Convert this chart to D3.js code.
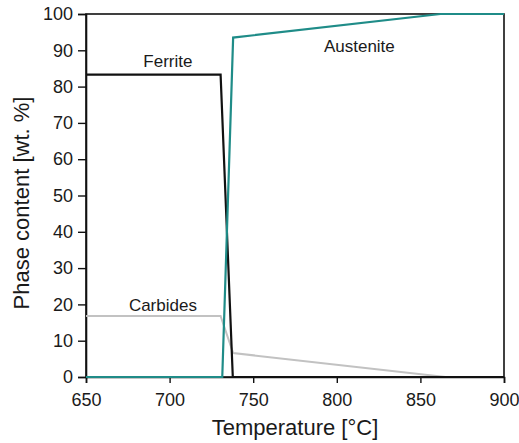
<!DOCTYPE html>
<html>
<head>
<meta charset="utf-8">
<script src="https://cdn.jsdelivr.net/npm/d3@7"></script>
<style>
  html, body { margin: 0; padding: 0; background: #fff; }
  svg { display: block; font-family: "Liberation Sans", Arial, sans-serif; }
</style>
</head>
<body>
<svg id="chart" width="519" height="443"></svg>
<script>
// Phase fractions versus temperature (wt. %)
const ferriteT = [650, 730.5, 737.8, 900];
const ferriteV = [83.3, 83.3, 0, 0];

const carbidesT = [650, 730.5, 738, 865, 900];
const carbidesV = [16.8, 16.8, 6.6, 0, 0];

const austeniteT = [650, 731.5, 738, 862, 900];
const austeniteV = [0, 0, 93.5, 100, 100];

const xTicks = [650, 700, 750, 800, 850, 900];
const yTicks = [0, 10, 20, 30, 40, 50, 60, 70, 80, 90, 100];

const labels = [
  { text: "Ferrite", t: 699, v: 85.5 },
  { text: "Austenite", t: 813.5, v: 89.5 },
  { text: "Carbides", t: 696, v: 18.3 }
];

const W = 519, H = 443;
const margin = { top: 14, right: 15, bottom: 66, left: 86 };
const iw = W - margin.left - margin.right;
const ih = H - margin.top - margin.bottom;

const svg = d3.select("#chart");
const g = svg.append("g").attr("transform", `translate(${margin.left},${margin.top})`);

const x = d3.scaleLinear().domain([650, 900]).range([0, iw]);
const y = d3.scaleLinear().domain([0, 100]).range([ih, 0]);

// frame
g.append("rect")
  .attr("x", 0).attr("y", 0).attr("width", iw).attr("height", ih)
  .attr("fill", "none").attr("stroke", "#111").attr("stroke-width", 1.6);

// axes
const xAxis = g.append("g")
  .attr("transform", `translate(0,${ih})`)
  .call(d3.axisBottom(x).tickValues(xTicks).tickFormat(d3.format("d")).tickSize(6).tickPadding(10));
const yAxis = g.append("g")
  .call(d3.axisLeft(y).tickValues(yTicks).tickFormat(d3.format("d")).tickSize(8).tickPadding(5));

[xAxis, yAxis].forEach(a => {
  a.select(".domain").attr("stroke", "#111").attr("stroke-width", 1.6);
  a.selectAll(".tick line").attr("stroke", "#111").attr("stroke-width", 1.4);
  a.selectAll(".tick text")
    .attr("fill", "#1a1a1a")
    .style("font-family", '"Liberation Sans", Arial, sans-serif')
    .style("font-size", "18px");
});

// phase curves
const series = [
  { t: carbidesT, v: carbidesV, color: "#c2c2c2", w: 2 },
  { t: ferriteT, v: ferriteV, color: "#111111", w: 2.2 },
  { t: austeniteT, v: austeniteV, color: "#1f8c88", w: 2.2 }
];

const line = d3.line().x(d => x(d[0])).y(d => y(d[1]));

series.forEach(s => {
  g.append("path")
    .datum(s.t.map((t, i) => [t, s.v[i]]))
    .attr("d", line)
    .attr("fill", "none")
    .attr("stroke", s.color)
    .attr("stroke-width", s.w)
    .attr("stroke-linejoin", "miter");
});

// curve labels
labels.forEach(l => {
  g.append("text")
    .attr("x", x(l.t))
    .attr("y", y(l.v))
    .attr("text-anchor", "middle")
    .attr("fill", "#1a1a1a")
    .style("font-size", "17px")
    .text(l.text);
});

// axis titles
svg.append("text")
  .attr("x", margin.left + iw / 2)
  .attr("y", 435)
  .attr("text-anchor", "middle")
  .attr("fill", "#1a1a1a")
  .style("font-size", "22px")
  .text("Temperature [°C]");

svg.append("text")
  .attr("transform", `translate(29,${203}) rotate(-90)`)
  .attr("text-anchor", "middle")
  .attr("fill", "#1a1a1a")
  .style("font-size", "22px")
  .text("Phase content [wt. %]");
</script>
</body>
</html>
